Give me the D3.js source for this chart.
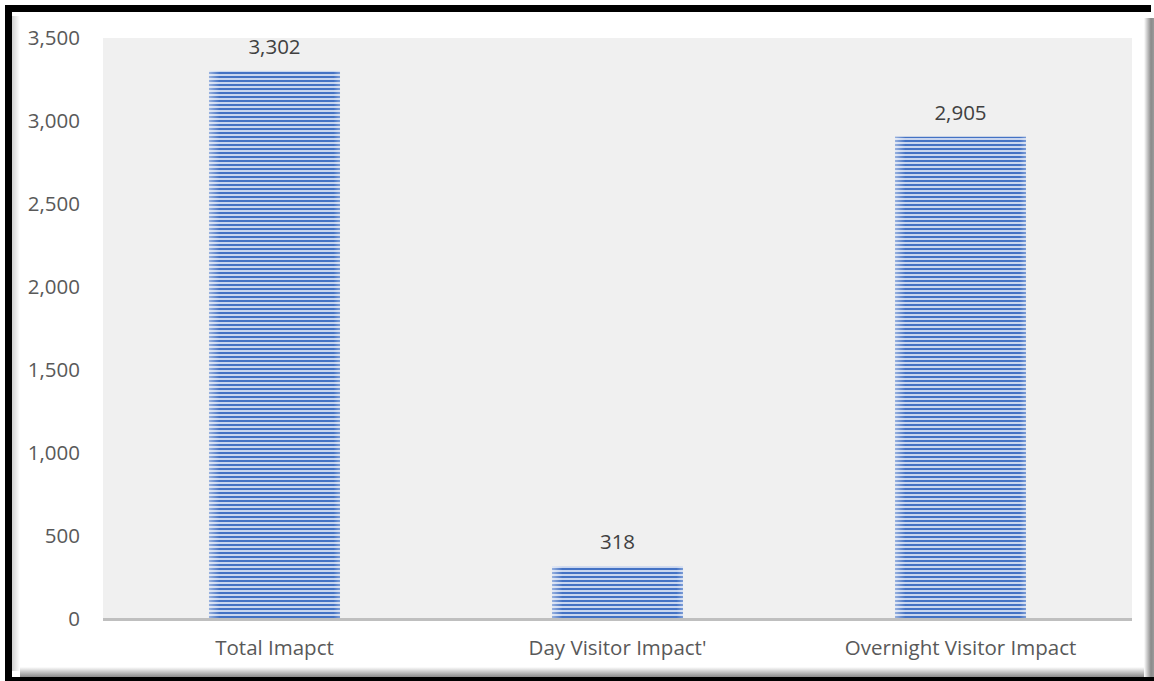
<!DOCTYPE html>
<html>
<head>
<meta charset="utf-8">
<script src="https://cdn.jsdelivr.net/npm/d3@7"></script>
<style>
  html, body { margin: 0; padding: 0; background: #ffffff; }
  svg { display: block; }
</style>
</head>
<body>
<svg id="chart" width="1154" height="681"></svg>
<script>
const categories = ["Total Imapct", "Day Visitor Impact'", "Overnight Visitor Impact"];
const values = [3302, 318, 2905];
const yTicks = [0, 500, 1000, 1500, 2000, 2500, 3000, 3500];

const W = 1154, H = 681;
const plot = { left: 103, right: 1132, top: 38, bottom: 619 };
const FONT = "'Open Sans', 'Noto Sans', sans-serif";
const FS = 20.5;

const svg = d3.select("#chart");
const defs = svg.append("defs");

// frame
svg.append("rect").attr("x", 5).attr("y", 5).attr("width", 1146).attr("height", 676).attr("fill", "#000");
svg.append("rect").attr("x", 5).attr("y", 677).attr("width", W - 5).attr("height", 4).attr("fill", "#000");
svg.append("rect").attr("x", 12).attr("y", 12).attr("width", 1142).attr("height", 665).attr("fill", "#fff");

const gl = defs.append("linearGradient").attr("id", "bevL").attr("x1", 0).attr("x2", 1).attr("y1", 0).attr("y2", 0);
gl.append("stop").attr("offset", 0).attr("stop-color", "#cfcfcf");
gl.append("stop").attr("offset", 1).attr("stop-color", "#ffffff");
const gr = defs.append("linearGradient").attr("id", "bevR").attr("x1", 0).attr("x2", 1).attr("y1", 0).attr("y2", 0);
gr.append("stop").attr("offset", 0).attr("stop-color", "#ffffff");
gr.append("stop").attr("offset", 0.7).attr("stop-color", "#8a8a8a");
gr.append("stop").attr("offset", 1).attr("stop-color", "#9a9a9a");
const gb = defs.append("linearGradient").attr("id", "bevB").attr("x1", 0).attr("x2", 0).attr("y1", 0).attr("y2", 1);
gb.append("stop").attr("offset", 0).attr("stop-color", "#ffffff");
gb.append("stop").attr("offset", 1).attr("stop-color", "#8a8a8a");

svg.append("rect").attr("x", 12).attr("y", 16).attr("width", 8).attr("height", 655).attr("fill", "url(#bevL)");
svg.append("rect").attr("x", 20).attr("y", 667).attr("width", 1126).attr("height", 10).attr("fill", "url(#bevB)");
svg.append("rect").attr("x", 1144).attr("y", 18).attr("width", 10).attr("height", 659).attr("fill", "url(#bevR)");

// plot background
svg.append("rect")
  .attr("x", plot.left).attr("y", plot.top)
  .attr("width", plot.right - plot.left).attr("height", plot.bottom - plot.top)
  .attr("fill", "#f0f0f0");

const x = d3.scaleBand().domain(categories).range([plot.left, plot.right])
  .paddingInner(0.618).paddingOuter(0.309);
const y = d3.scaleLinear().domain([0, 3500]).range([plot.bottom, plot.top]);

// stripe pattern
const pat = defs.append("pattern").attr("id", "stripes")
  .attr("patternUnits", "userSpaceOnUse").attr("width", 8).attr("height", 4);
pat.append("rect").attr("width", 8).attr("height", 4).attr("fill", "#c9d6ef");
pat.append("rect").attr("width", 8).attr("height", 2).attr("fill", "#4472c4");

const edge = defs.append("linearGradient").attr("id", "edge").attr("x1", 0).attr("x2", 1).attr("y1", 0).attr("y2", 0);
edge.append("stop").attr("offset", 0).attr("stop-color", "#ffffff").attr("stop-opacity", 0.45);
edge.append("stop").attr("offset", 0.08).attr("stop-color", "#ffffff").attr("stop-opacity", 0);
edge.append("stop").attr("offset", 0.95).attr("stop-color", "#ffffff").attr("stop-opacity", 0);
edge.append("stop").attr("offset", 1).attr("stop-color", "#ffffff").attr("stop-opacity", 0.3);

const bars = svg.append("g");
bars.selectAll("rect.bar").data(values).join("rect").attr("class", "bar")
  .attr("x", (d, i) => x(categories[i])).attr("width", x.bandwidth())
  .attr("y", d => y(d)).attr("height", d => y(0) - y(d))
  .attr("fill", "url(#stripes)");
bars.selectAll("rect.edge").data(values).join("rect").attr("class", "edge")
  .attr("x", (d, i) => x(categories[i])).attr("width", x.bandwidth())
  .attr("y", d => y(d)).attr("height", d => y(0) - y(d))
  .attr("fill", "url(#edge)");

// baseline
svg.append("line").attr("x1", plot.left).attr("x2", plot.right)
  .attr("y1", y(0) + 0.5).attr("y2", y(0) + 0.5)
  .attr("stroke", "#bfbfbf").attr("stroke-width", 3);

// y axis labels
const yAxis = d3.axisLeft(y).tickValues(yTicks).tickFormat(d3.format(",")).tickSize(0).tickPadding(0);
const yg = svg.append("g").attr("transform", "translate(80,0)").call(yAxis);
yg.select(".domain").remove();
yg.selectAll("text").attr("font-family", FONT).attr("font-size", FS).attr("fill", "#595959");

// x axis labels
const xAxis = d3.axisBottom(x).tickSize(0).tickPadding(0);
const xg = svg.append("g").attr("transform", "translate(0,640)").call(xAxis);
xg.select(".domain").remove();
xg.selectAll("text").attr("font-family", FONT).attr("font-size", FS).attr("fill", "#595959");

// value labels
svg.append("g").selectAll("text").data(values).join("text")
  .attr("x", (d, i) => x(categories[i]) + x.bandwidth() / 2)
  .attr("y", d => y(d) - 17)
  .attr("text-anchor", "middle")
  .attr("font-family", FONT).attr("font-size", FS).attr("fill", "#404040")
  .text(d => d3.format(",")(d));
</script>
</body>
</html>
